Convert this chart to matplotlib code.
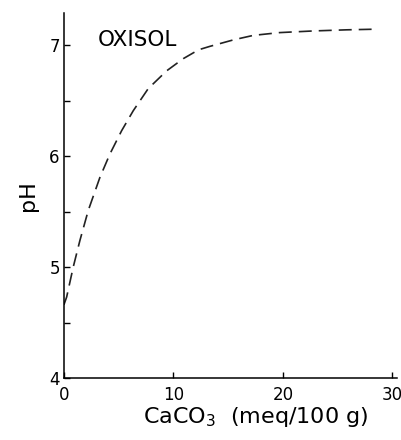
import numpy as np
import matplotlib
matplotlib.use("Agg")
import matplotlib.pyplot as plt

plt.rcParams["font.family"] = "DejaVu Sans"
plt.rcParams["mathtext.default"] = "regular"

# curve
caco3 = [0.0, 0.25, 0.85, 1.46, 2.22, 3.29, 4.2, 5.27, 6.33, 7.7, 9.38,
         10.9, 12.3, 13.3, 15.5, 17.3, 19.7, 22.8, 25.8, 28.1]
ph = [4.66, 4.73, 5.0, 5.24, 5.51, 5.81, 6.02, 6.23, 6.41, 6.61, 6.77,
      6.88, 6.96, 6.99, 7.05, 7.09, 7.115, 7.13, 7.14, 7.145]

xticks = [0, 10, 20, 30]
yticks = [4, 5, 6, 7]

fig = plt.figure(figsize=(4.02, 4.4), dpi=100)
ax = fig.add_axes([0.159, 0.141, 0.828, 0.829])

ax.plot(caco3, ph, color="#222222", lw=1.2, dashes=(7.8, 4.2))

ax.set_xlim(0, 30.4)
ax.set_ylim(4, 7.29)
ax.set_xticks(xticks)
ax.set_yticks(yticks)
ax.set_yticks([4.5, 5.5, 6.5], minor=True)
ax.tick_params(direction="in", length=4.5, width=1, labelsize=12)
ax.tick_params(axis="x", pad=6)
ax.tick_params(axis="y", pad=3)
ax.tick_params(which="minor", direction="in", length=4.5, width=1)
ax.spines["top"].set_visible(False)
ax.spines["right"].set_visible(False)
for s in ("left", "bottom"):
    ax.spines[s].set_linewidth(1.1)

ax.text(3.1, 7.05, "OXISOL", fontsize=15.5, va="center", ha="left")

ax.set_ylabel("pH", fontsize=16)
ax.yaxis.set_label_coords(-0.078, 0.5)
ax.set_xlabel("CaCO$_3$  (meq/100 g)", fontsize=16, labelpad=0)
ax.xaxis.set_label_coords(0.575, -0.075)

fig.savefig("out.png", dpi=100)
